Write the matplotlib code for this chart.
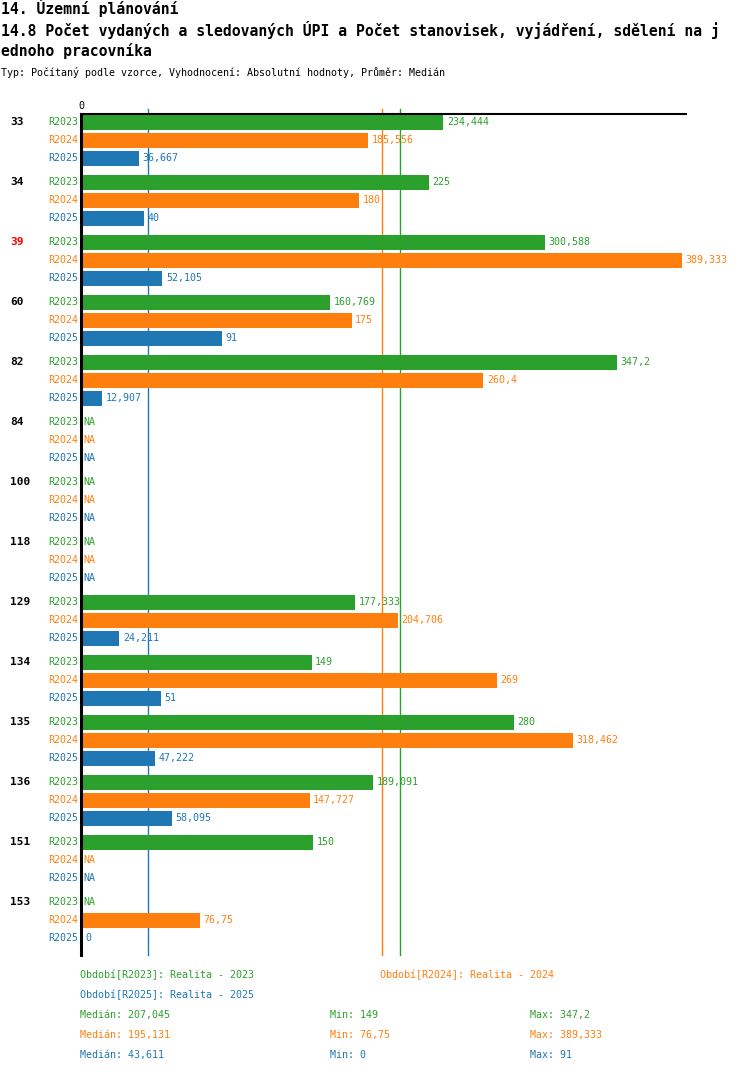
import numpy as np
import matplotlib
matplotlib.use("Agg")
import matplotlib.pyplot as plt
import matplotlib.transforms as mtransforms

# --------------------------------------------------------------------------
# Data (None = NA)
# --------------------------------------------------------------------------
GROUPS = ["33", "34", "39", "60", "82", "84", "100", "118",
          "129", "134", "135", "136", "151", "153"]
HIGHLIGHT = "39"
SERIES = ["R2023", "R2024", "R2025"]
R2023 = [234.444, 225, 300.588, 160.769, 347.2, None, None, None,
         177.333, 149, 280, 189.091, 150, None]
R2024 = [185.556, 180, 389.333, 175, 260.4, None, None, None,
         204.706, 269, 318.462, 147.727, None, 76.75]
R2025 = [36.667, 40, 52.105, 91, 12.907, None, None, None,
         24.211, 51, 47.222, 58.095, None, 0]
MEDIANS = [207.045, 195.131, 43.611]
MINS = [149, 76.75, 0]
MAXS = [347.2, 389.333, 91]
LEGEND = ["Období[R2023]: Realita - 2023",
          "Období[R2024]: Realita - 2024",
          "Období[R2025]: Realita - 2025"]

COLORS = ["#2ca02c", "#ff7f0e", "#1f77b4"]
FONT = "DejaVu Sans Mono"

W, H = 750, 1074
GROUP_PITCH = 60
ROW_PITCH = 18
BAR_H = 15


def fmt(v):
    return f"{v:g}".replace(".", ",")


fig = plt.figure(figsize=(W / 100, H / 100), dpi=100)
ax_l, ax_r, ax_t, ax_b = 81, 686, 114, 955
ax = fig.add_axes([ax_l / W, 1 - ax_b / H, (ax_r - ax_l) / W, (ax_b - ax_t) / H])
ax.set_xlim(0, 392.6)
ax.set_ylim(833, -8)
ax.axis("off")

# axis lines
ax.plot([0, 1], [1, 1], transform=ax.transAxes, color="black", lw=1.5,
        clip_on=False, zorder=5)
ax.plot([0, 0], [0, 1], transform=ax.transAxes, color="black", lw=2.2,
        clip_on=False, zorder=5)
ax.text(0, 1.004, "0", transform=ax.transAxes, ha="center", va="bottom",
        fontsize=7.2, family=FONT)

# median lines (behind the bars, starting a little above the axis)
for m, c in zip(MEDIANS, COLORS):
    ax.plot([m, m], [-13, 833], color=c, lw=1, zorder=1, clip_on=False)

lab_tf = mtransforms.blended_transform_factory(fig.transFigure, ax.transData)

for gi, g in enumerate(GROUPS):
    y0 = gi * GROUP_PITCH
    ax.text(10 / W, y0, g, transform=lab_tf, ha="left", va="center",
            fontsize=8, fontweight="bold", family=FONT,
            color="red" if g == HIGHLIGHT else "black")
    for k, (vals, c) in enumerate(zip([R2023, R2024, R2025], COLORS)):
        y = y0 + k * ROW_PITCH
        v = vals[gi]
        ax.text(78 / W, y, SERIES[k], transform=lab_tf, ha="right",
                va="center", fontsize=7.2, family=FONT, color=c)
        if v is None:
            ax.annotate("NA", xy=(0, y), xytext=(2, 0),
                        textcoords="offset points", ha="left", va="center",
                        fontsize=7.2, family=FONT, color=c)
            continue
        ax.barh(y, v, height=BAR_H, color=c, left=0.7, zorder=2)
        ax.annotate(fmt(v), xy=(v + 0.7, y), xytext=(2.5, 0),
                    textcoords="offset points", ha="left", va="center",
                    fontsize=7.2, family=FONT, color=c)

# titles
fig.text(1 / W, 1 - 8 / H, "14. Územní plánování", ha="left", va="center",
         fontsize=10.6, fontweight="bold", family=FONT)
fig.text(1 / W, 1 - 30 / H,
         "14.8 Počet vydaných a sledovaných ÚPI a Počet stanovisek, vyjádření, sdělení na j",
         ha="left", va="center", fontsize=10.6, fontweight="bold", family=FONT)
fig.text(1 / W, 1 - 51 / H, "ednoho pracovníka", ha="left", va="center",
         fontsize=10.6, fontweight="bold", family=FONT)
fig.text(1 / W, 1 - 73 / H,
         "Typ: Počítaný podle vzorce, Vyhodnocení: Absolutní hodnoty, Průměr: Medián",
         ha="left", va="center", fontsize=7.2, family=FONT)

# legend / statistics
legend_pos = [(80, 975), (380, 975), (80, 995)]
for txt, (x, y), c in zip(LEGEND, legend_pos, COLORS):
    fig.text(x / W, 1 - y / H, txt, ha="left", va="center",
             fontsize=7.2, family=FONT, color=c)
for k, c in enumerate(COLORS):
    y = 1015 + k * 20
    fig.text(80 / W, 1 - y / H, f"Medián: {fmt(MEDIANS[k])}", ha="left",
             va="center", fontsize=7.2, family=FONT, color=c)
    fig.text(330 / W, 1 - y / H, f"Min: {fmt(MINS[k])}", ha="left",
             va="center", fontsize=7.2, family=FONT, color=c)
    fig.text(530 / W, 1 - y / H, f"Max: {fmt(MAXS[k])}", ha="left",
             va="center", fontsize=7.2, family=FONT, color=c)

fig.savefig("out.png", dpi=100)
